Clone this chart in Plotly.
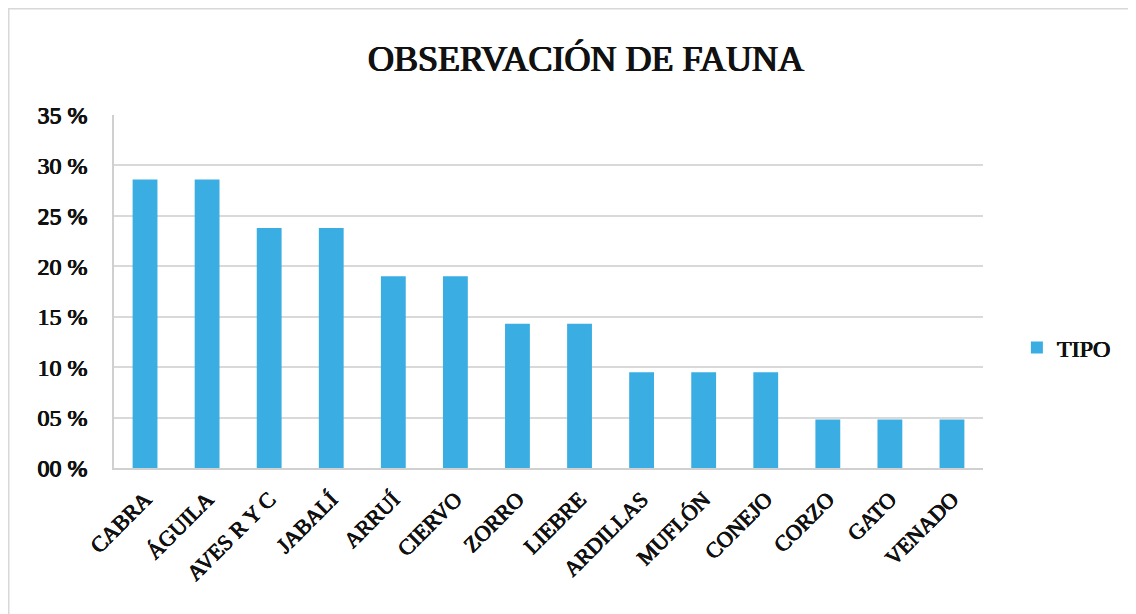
import plotly.graph_objects as go

categories = ["CABRA", "ÁGUILA", "AVES R Y C", "JABALÍ", "ARRUÍ", "CIERVO", "ZORRO",
              "LIEBRE", "ARDILLAS", "MUFLÓN", "CONEJO", "CORZO", "GATO", "VENADO"]
values = [28.6, 28.6, 23.8, 23.8, 19.0, 19.0, 14.3, 14.3, 9.5, 9.5, 9.5, 4.8, 4.8, 4.8]
tick_vals = [0, 5, 10, 15, 20, 25, 30, 35]
tick_text = ["00 %", "05 %", "10 %", "15 %", "20 %", "25 %", "30 %", "35 %"]

SERIF = "Liberation Serif"
FAKE_BOLD = "0.6px 0 0 #111, -0.4px 0 0 #111, 0 0.3px 0 #111"
TITLE_BOLD = "0.9px 0 0 #111, -0.6px 0 0 #111, 0 0.4px 0 #111"

fig = go.Figure()
fig.add_trace(go.Bar(
    x=categories, y=values, name="TIPO",
    marker=dict(color="#3aade3", line=dict(width=0)),
    showlegend=True,
))

fig.update_layout(
    width=1128, height=606,
    margin=dict(l=106, r=153, t=107, b=146),
    paper_bgcolor="white", plot_bgcolor="white",
    bargap=0.6,
    title=dict(text="OBSERVACIÓN DE FAUNA", x=0.543, xanchor="center",
               xref="paper", y=0.917, yanchor="middle",
               font=dict(family=SERIF, size=36, color="#111", shadow=TITLE_BOLD)),
    legend=dict(x=1.039, y=0.34, xanchor="left", yanchor="middle",
                font=dict(family=SERIF, size=24, color="#111", shadow=FAKE_BOLD),
                itemwidth=30, bgcolor="rgba(0,0,0,0)"),
    font=dict(family=SERIF, color="#111"),
)
fig.update_xaxes(
    tickangle=-45, tickfont=dict(family=SERIF, size=22, color="#111", shadow=FAKE_BOLD),
    showline=True, linecolor="#d0d0d0", linewidth=1.5,
    showgrid=False, ticks="", ticklabelstandoff=8,
)
fig.update_yaxes(
    range=[0, 35], tickvals=tick_vals, ticktext=tick_text,
    tickfont=dict(family=SERIF, size=24, color="#111", shadow=FAKE_BOLD),
    showgrid=True, gridcolor="#d9d9d9", gridwidth=1.5,
    showline=True, linecolor="#d0d0d0", linewidth=1.5,
    ticks="", ticklabelstandoff=20, zeroline=False,
)
# outer chart border (top and left edges visible)
fig.add_shape(type="rect", xref="paper", yref="paper",
              x0=-0.1211, x1=1.3, y0=-0.6, y1=1.301,
              line=dict(color="#d8d8d8", width=1.5), layer="below")

fig.write_html("out.html")
